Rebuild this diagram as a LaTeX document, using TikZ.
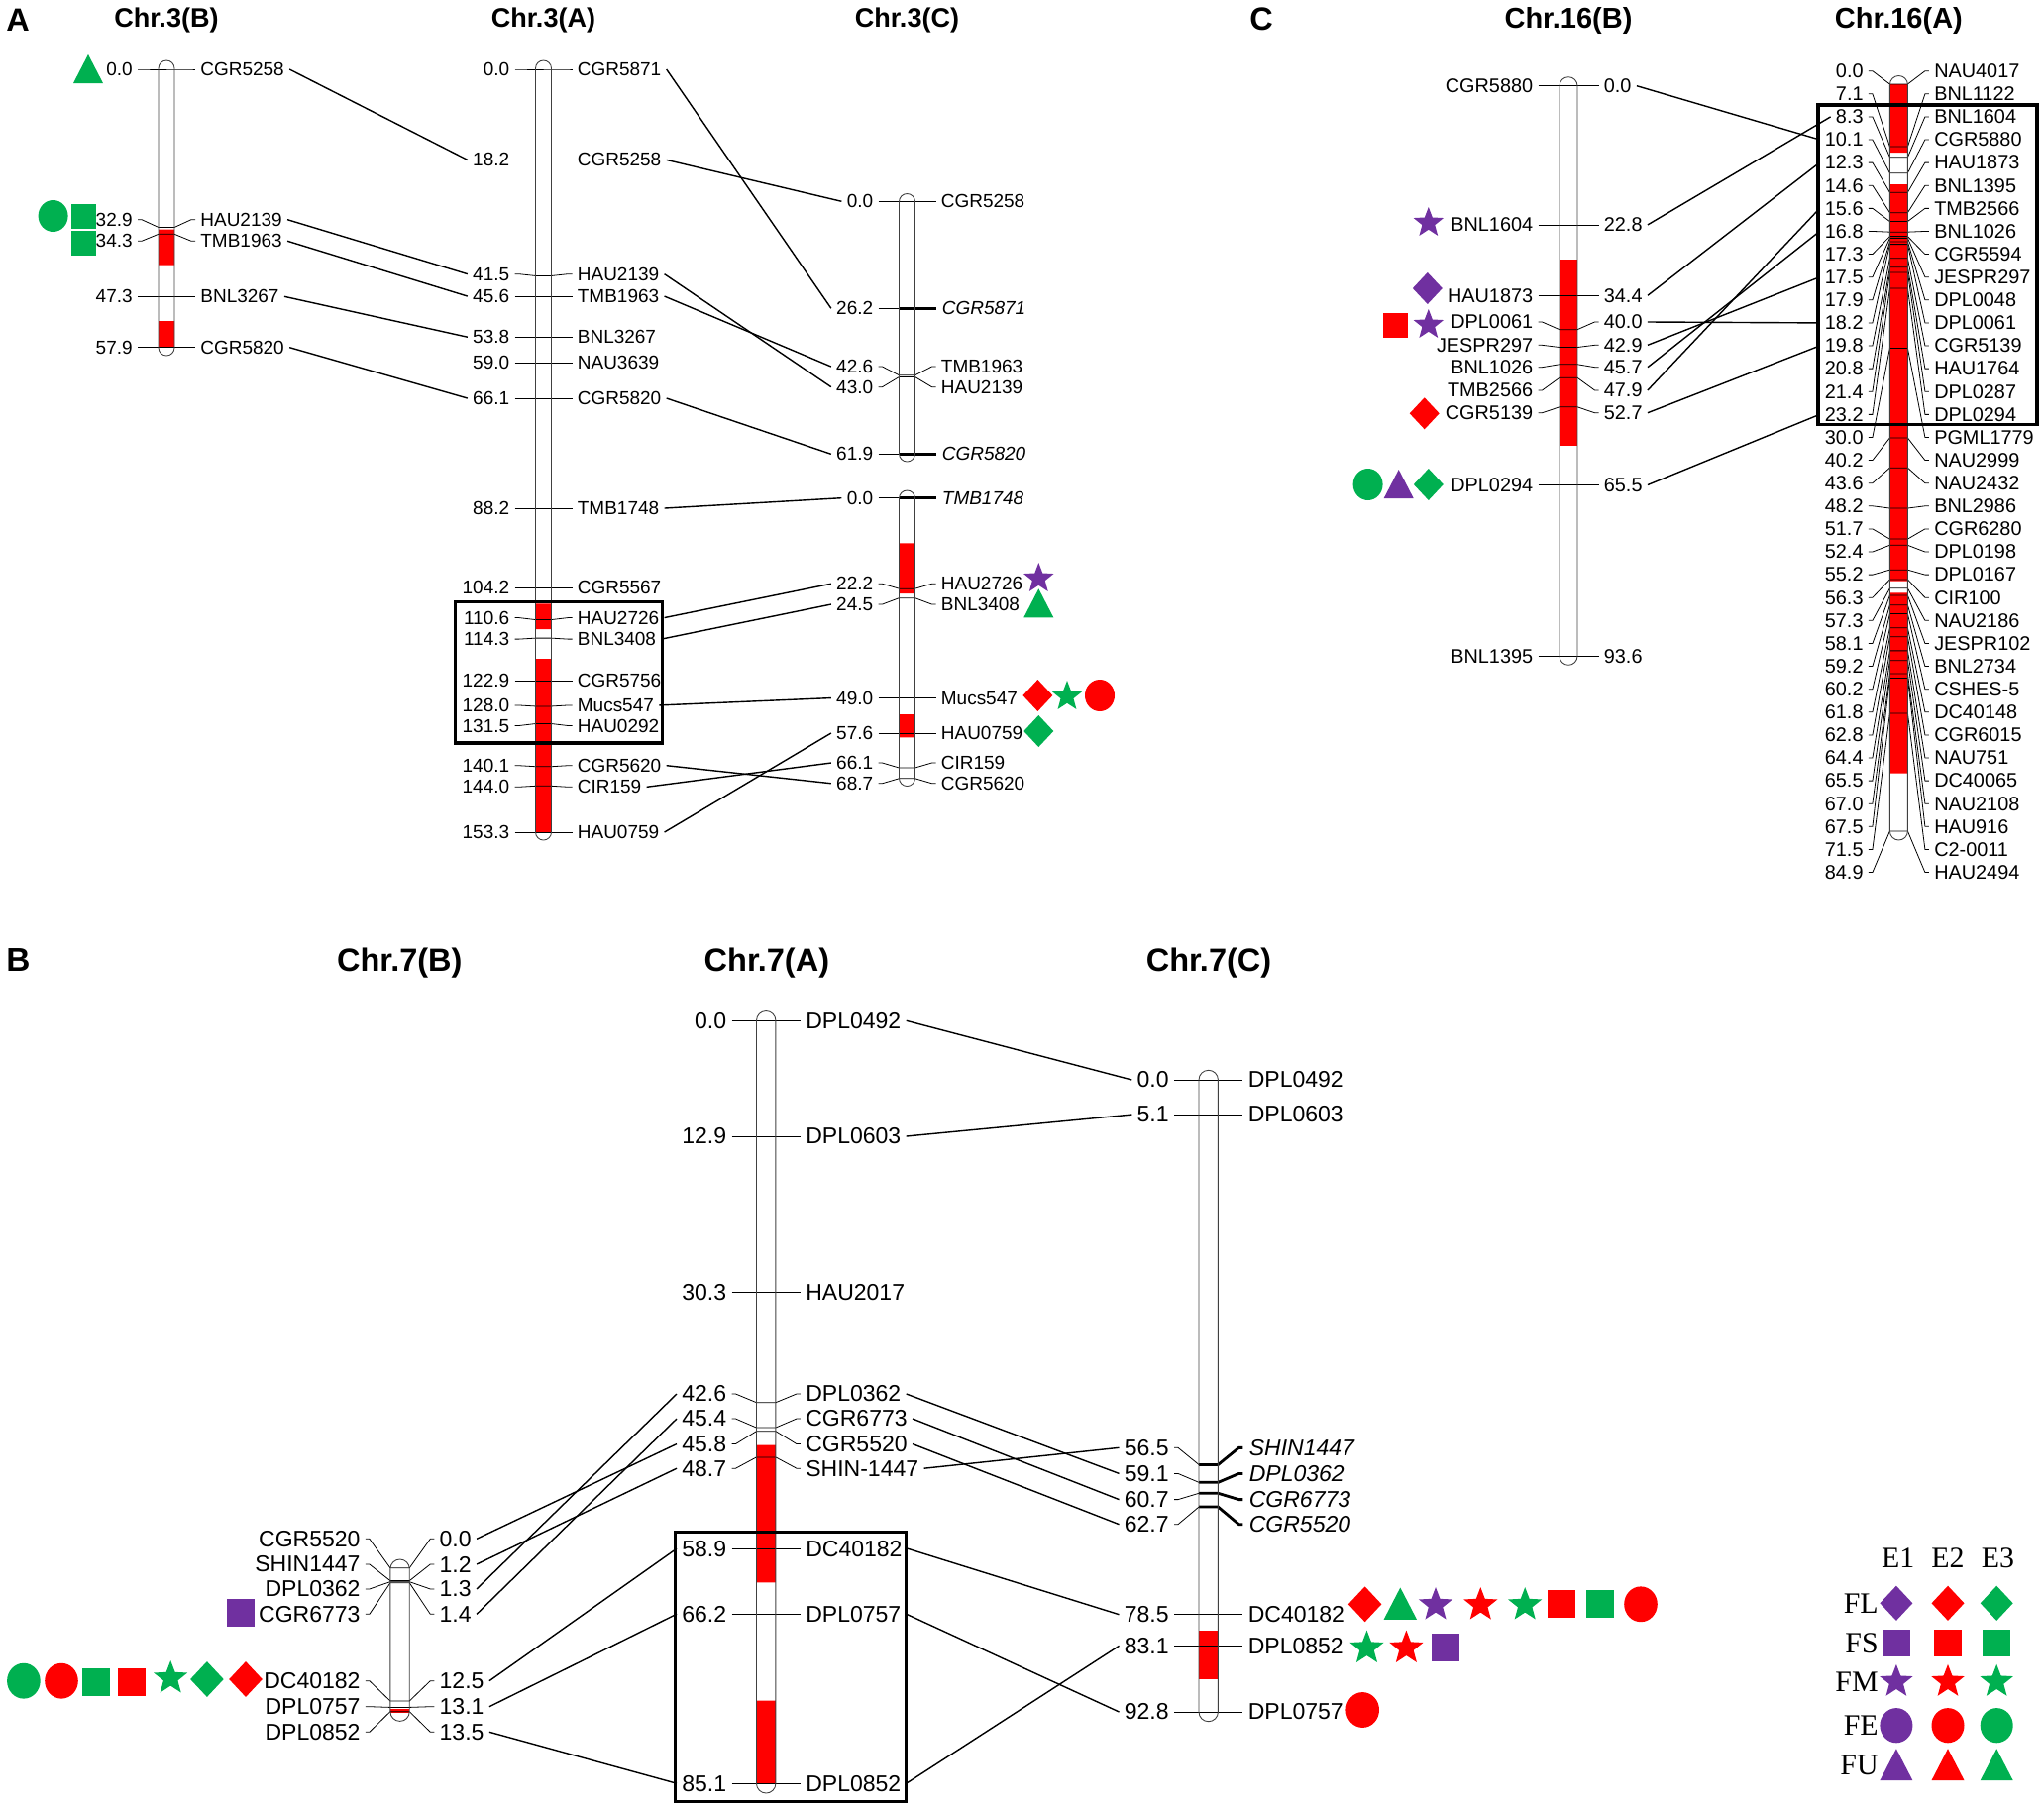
\documentclass[tikz,border=0pt]{standalone}
\usepackage{fontspec}
\setmainfont{Liberation Sans}
\newfontfamily\legfont{Liberation Serif}
\definecolor{qred}{RGB}{255,0,0}
\definecolor{qgrn}{RGB}{0,176,80}
\definecolor{qpur}{RGB}{112,48,160}
\newcommand\lblfont{\fontsize{10.8}{13}\selectfont}

\tikzset{
  lftlbl/.style={anchor=east,inner xsep=1mm,inner ysep=0.3mm,font=\lblfont},
  rgtlbl/.style={anchor=west,inner xsep=1mm,inner ysep=0.3mm,font=\lblfont},
  tk/.style={line width=0.45pt},
  tkb/.style={line width=1.6pt,font=\lblfont\itshape},
  bar/.style={draw=black!75,line width=0.5pt,rounded corners=\rc},
  cn/.style={line width=0.8pt},
  box/.style={draw,line width=2pt},
  ttl/.style={anchor=base,inner sep=0,font=\bfseries\fontsize{15.4}{18}\selectfont},
  pnl/.style={anchor=base west,inner sep=0,font=\bfseries\fontsize{18.5}{22}\selectfont},
  leg/.style={inner sep=0.5mm,font=\legfont\fontsize{17}{20}\selectfont},
  bs/.style={scale=1.12},
  ls/.style={scale=1.1},
  pics/dia/.style={code={\fill[#1] (0,-16) -- (15,0) -- (0,16) -- (-15,0) -- cycle;}},
  pics/sqr/.style={code={\fill[#1] (-12.5,-12.5) rectangle (12.5,12.5);}},
  pics/crc/.style={code={\fill[#1] (0,0) ellipse (15 and 16);}},
  pics/tri/.style={code={\fill[#1] (0,-15) -- (15,14) -- (-15,14) -- cycle;}},
  pics/str/.style={code={\fill[#1] (-90:16) -- (-54:6.8) -- (-18:16) -- (18:6.8) -- (54:16)
      -- (90:6.8) -- (126:16) -- (162:6.8) -- (198:16) -- (234:6.8) -- cycle;}},
}

% markers of one linkage group: #1 centre x, #2 y of 0 cM, #3 px per cM, #4 list
\newcommand{\chrmarks}[4]{%
  \foreach \nm/\cm/\dl/\ltx/\rtx/\sty in {#4}{%
    \pgfmathsetmacro\my{#2+#3*\cm}%
    \pgfmathsetmacro\ly{\my+\dl}%
    \node[lftlbl] (\nm-L) at (#1-\hw-\gp,\ly) {\ltx};
    \node[rgtlbl,\sty] (\nm-R) at (#1+\hw+\gp,\ly) {\rtx};
    \draw[tk] (\nm-L.east) -- ++(4,0) -- (#1-\hw,\my);
    \draw[tk,\sty] (#1-\hw,\my) -- (#1+\hw,\my) -- ([xshift=-0.8mm]\nm-R.west) -- (\nm-R.west);
  }}

\begin{document}
\begin{tikzpicture}[x=0.2mm,y=-0.2mm]
\useasboundingbox (0,0) rectangle (2063,1825);

% ---------------- panel A ----------------
\begin{scope}
  \def\hw{8}\def\gp{21}\def\rc{1.6mm}
  \def\lblfont{\fontsize{10.8}{13}\selectfont}
  \node[pnl] (pA) at (6,31.5) {A};
  \node[ttl] (tA1) at (168,27) {Chr.3(B)};
  \node[ttl] (tA2) at (548.5,27) {Chr.3(A)};
  \node[ttl] (tA3) at (915.5,27) {Chr.3(C)};

  % Chr.3(B)
  \fill[qred] (160,231.7) rectangle (176,267.7) (160,324) rectangle (176,350.7);
  \chrmarks{168}{70}{4.848}{b1/0.0/0/0.0/CGR5258/tk, b2/32.9/-7.8/32.9/HAU2139/tk,
    b3/34.3/7/34.3/TMB1963/tk, b4/47.3/0/47.3/BNL3267/tk, b5/57.9/0/57.9/CGR5820/tk}
  \draw[bar] (160,61) rectangle (176,359);

  % Chr.3(A)
  \fill[qred] (540.5,609.3) rectangle (556.5,635) (540.5,665) rectangle (556.5,840);
  \chrmarks{548.5}{70}{5.023}{a1/0.0/0/0.0/CGR5871/tk, a2/18.2/0/18.2/CGR5258/tk,
    a3/41.5/-1.8/41.5/HAU2139/tk, a4/45.6/0/45.6/TMB1963/tk, a5/53.8/0/53.8/BNL3267/tk,
    a6/59.0/0/59.0/NAU3639/tk, a7/66.1/0/66.1/CGR5820/tk, a8/88.2/0/88.2/TMB1748/tk,
    a9/104.2/0/104.2/CGR5567/tk, a10/110.6/-2/110.6/HAU2726/tk, a11/114.3/1/114.3/BNL3408/tk,
    a12/122.9/0/122.9/CGR5756/tk, a13/128.0/-1/128.0/Mucs547/tk, a14/131.5/2/131.5/HAU0292/tk,
    a15/140.1/-1/140.1/CGR5620/tk, a16/144.0/1/144.0/CIR159/tk, a17/153.3/0/153.3/HAU0759/tk}
  \draw[bar] (540.5,61) rectangle (556.5,848);
  \draw[box] (459.7,607.3) rectangle (668.6,750);

  % Chr.3(C), two groups
  \chrmarks{915.5}{203.3}{4.12}{c1/0.0/0/0.0/CGR5258/tk, c2/26.2/0/26.2/CGR5871/tkb,
    c3/42.6/-8.8/42.6/TMB1963/tk, c4/43.0/10.2/43.0/HAU2139/tk, c5/61.9/0/61.9/CGR5820/tkb}
  \draw[bar] (907.5,195.5) rectangle (923.5,466);
  \fill[qred] (907.5,548.3) rectangle (923.5,599) (907.5,721) rectangle (923.5,744.3);
  \chrmarks{915.5}{502.7}{4.12}{d1/0.0/0/0.0/TMB1748/tkb, d2/22.2/-4.9/22.2/HAU2726/tk,
    d3/24.5/6.4/24.5/BNL3408/tk, d4/49.0/0/49.0/Mucs547/tk, d5/57.6/0/57.6/HAU0759/tk,
    d6/66.1/-5/66.1/CIR159/tk, d7/68.7/5/68.7/CGR5620/tk}
  \draw[bar] (907.5,495) rectangle (923.5,793.5);

  \foreach \p/\q in {b1/a2, b2/a3, b3/a4, b4/a5, b5/a7, a1/c2, a2/c1, a3/c4, a4/c3, a7/c5,
      a8/d1, a10/d2, a11/d3, a13/d4, a15/d7, a16/d6, a17/d5}
    \draw[cn] (\p-R.east) -- (\q-L.west);

  \pic at (89,70) {tri=qgrn};
  \pic at (53.6,218) {crc=qgrn};
  \pic at (84,218) {sqr=qgrn};
  \pic at (84,245) {sqr=qgrn};
  \pic at (1048.3,584) {str=qpur};
  \pic at (1048.3,609.3) {tri=qgrn};
  \pic at (1047.4,702) {dia=qred};
  \pic at (1077,703) {str=qgrn};
  \pic at (1110,702) {crc=qred};
  \pic at (1048.3,738) {dia=qgrn};
\end{scope}

% ---------------- panel C ----------------
\begin{scope}
  \def\hw{9}\def\gp{21.5}\def\rc{1.8mm}
  \def\lblfont{\fontsize{11.3}{13}\selectfont}
  \node[pnl] (pC) at (1261,30.7) {C};
  \node[ttl,font=\bfseries\fontsize{16.5}{19}\selectfont] (tC1) at (1583,28) {Chr.16(B)};
  \node[ttl,font=\bfseries\fontsize{16.5}{19}\selectfont] (tC2) at (1916.4,28) {Chr.16(A)};

  % Chr.16(B)
  \fill[qred] (1574,262.3) rectangle (1592,449.5);
  \chrmarks{1583}{86.7}{6.15}{e1/0.0/0/CGR5880/0.0/tk, e2/22.8/0/BNL1604/22.8/tk,
    e3/34.4/0/HAU1873/34.4/tk, e4/40.0/-7.7/DPL0061/40.0/tk, e5/42.9/-2.2/JESPR297/42.9/tk,
    e6/45.7/2.9/BNL1026/45.7/tk, e7/47.9/12.7/TMB2566/47.9/tk, e8/52.7/5.9/CGR5139/52.7/tk,
    e9/65.5/0/DPL0294/65.5/tk, e10/93.6/0/BNL1395/93.6/tk}
  \draw[bar] (1574,77.7) rectangle (1592,671.3);

  % Chr.16(A)
  \fill[qred] (1907.4,85) rectangle (1925.4,154) (1907.4,186) rectangle (1925.4,586.7)
    (1907.4,598.3) rectangle (1925.4,780.7);
  \foreach \cm/\nm [count=\i from 0] in {0.0/NAU4017, 7.1/BNL1122, 8.3/BNL1604, 10.1/CGR5880,
      12.3/HAU1873, 14.6/BNL1395, 15.6/TMB2566, 16.8/BNL1026, 17.3/CGR5594, 17.5/JESPR297,
      17.9/DPL0048, 18.2/DPL0061, 19.8/CGR5139, 20.8/HAU1764, 21.4/DPL0287, 23.2/DPL0294,
      30.0/PGML1779, 40.2/NAU2999, 43.6/NAU2432, 48.2/BNL2986, 51.7/CGR6280, 52.4/DPL0198,
      55.2/DPL0167, 56.3/CIR100, 57.3/NAU2186, 58.1/JESPR102, 59.2/BNL2734, 60.2/CSHES-5,
      61.8/DC40148, 62.8/CGR6015, 64.4/NAU751, 65.5/DC40065, 67.0/NAU2108, 67.5/HAU916,
      71.5/C2-0011, 84.9/HAU2494}{
    \pgfmathsetmacro\my{85+8.88*\cm}
    \pgfmathsetmacro\ly{71.7+23.11*\i}
    \node[lftlbl] (f\i-L) at (1916.4-\hw-\gp,\ly) {\cm};
    \node[rgtlbl] (f\i-R) at (1916.4+\hw+\gp,\ly) {\nm};
    \draw[tk] (f\i-L.east) -- ++(4,0) -- (1907.4,\my) -- (1925.4,\my)
      -- ([xshift=-0.8mm]f\i-R.west) -- (f\i-R.west);
  }
  \draw[bar] (1907.4,76.5) rectangle (1925.4,848);
  \draw[box] (1834.8,106) rectangle (2056,428.3);

  \foreach \p/\q in {e1/f3, e2/f2, e3/f4, e4/f11, e5/f9, e6/f7, e7/f6, e8/f12, e9/f15}
    \draw[cn] (\p-R.east) -- (\q-L.west);

  \pic at (1441.8,225) {str=qpur};
  \pic at (1440.8,291) {dia=qpur};
  \pic at (1408,328.3) {sqr=qred};
  \pic at (1441.8,328) {str=qpur};
  \pic at (1437.7,417.3) {dia=qred};
  \pic at (1380.6,489) {crc=qgrn};
  \pic at (1411.7,489) {tri=qpur};
  \pic at (1441.8,489) {dia=qgrn};
\end{scope}

% ---------------- panel B ----------------
\begin{scope}
  \def\hw{9.7}\def\gp{25}\def\rc{1.94mm}
  \def\lblfont{\fontsize{13.1}{15}\selectfont}
  \node[pnl,font=\bfseries\fontsize{19}{22}\selectfont] (pB) at (6,980.7) {B};
  \node[ttl,font=\bfseries\fontsize{18.5}{22}\selectfont] (tB1) at (403.3,980.7) {Chr.7(B)};
  \node[ttl,font=\bfseries\fontsize{18.5}{22}\selectfont] (tB2) at (773.9,980.7) {Chr.7(A)};
  \node[ttl,font=\bfseries\fontsize{18.5}{22}\selectfont] (tB3) at (1220,980.7) {Chr.7(C)};

  % Chr.7(B)
  \fill[qred] (393.9,1724.5) rectangle (413.3,1728.5);
  \chrmarks{403.6}{1582.7}{10.74}{g1/0.0/-29.4/CGR5520/0.0/tk, g2/1.2/-16.6/SHIN1447/1.2/tk,
    g3/1.3/7.3/DPL0362/1.3/tk, g4/1.4/31.6/CGR6773/1.4/tk, g5/12.5/-20.3/DC40182/12.5/tk,
    g6/13.1/-0.7/DPL0757/13.1/tk, g7/13.5/20.6/DPL0852/13.5/tk}
  \draw[bar] (393.9,1574) rectangle (413.3,1737.4);

  % Chr.7(A)
  \fill[qred] (763.5,1458.7) rectangle (782.9,1597.3) (763.5,1716.5) rectangle (782.9,1800.2);
  \chrmarks{773.2}{1030.3}{9.047}{h1/0.0/0/0.0/DPL0492/tk, h2/12.9/0/12.9/DPL0603/tk,
    h3/30.3/0/30.3/HAU2017/tk, h4/42.6/-8.7/42.6/DPL0362/tk, h5/45.4/-9/45.4/CGR6773/tk,
    h6/45.8/12.9/45.8/CGR5520/tk, h7/48.7/11.3/48.7/SHIN-1447/tk, h8/58.9/0/58.9/DC40182/tk,
    h9/66.2/0/66.2/DPL0757/tk, h10/85.1/0/85.1/DPL0852/tk}
  \draw[bar] (763.5,1020.5) rectangle (782.9,1810);
  \draw[box] (681.3,1546.5) rectangle (914.6,1818.5);

  % Chr.7(C)
  \fill[qred] (1210,1646) rectangle (1229.4,1694.6);
  \chrmarks{1219.7}{1090}{6.875}{k1/0.0/0/0.0/DPL0492/tk, k2/5.1/0/5.1/DPL0603/tk,
    k3/56.5/-17.1/56.5/SHIN1447/tkb, k4/59.1/-8.9/59.1/DPL0362/tkb,
    k5/60.7/6.3/60.7/CGR6773/tkb, k6/62.7/17.6/62.7/CGR5520/tkb,
    k7/78.5/0/78.5/DC40182/tk, k8/83.1/0/83.1/DPL0852/tk, k9/92.8/0/92.8/DPL0757/tk}
  \draw[bar] (1210,1080.3) rectangle (1229.4,1737.7);

  \foreach \p/\q in {g1/h6, g2/h7, g3/h4, g4/h5, g5/h8, g6/h9, g7/h10, h1/k1, h2/k2, h4/k4,
      h5/k5, h6/k6, h7/k3, h8/k7, h9/k9, h10/k8}
    \draw[cn] (\p-R.east) -- (\q-L.west);

  \pic[bs] at (243.3,1628.3) {sqr=qpur};
  \pic[bs] at (23.9,1696.7) {crc=qgrn};
  \pic[bs] at (62,1696.7) {crc=qred};
  \pic[bs] at (97.3,1698) {sqr=qgrn};
  \pic[bs] at (133.1,1698) {sqr=qred};
  \pic[bs] at (172.2,1694) {str=qgrn};
  \pic[bs] at (208.9,1695) {dia=qgrn};
  \pic[bs] at (248,1695) {dia=qred};

  \pic[bs] at (1377.6,1619.3) {dia=qred};
  \pic[bs] at (1413.3,1619.3) {tri=qgrn};
  \pic[bs] at (1449,1620) {str=qpur};
  \pic[bs] at (1494.3,1620) {str=qred};
  \pic[bs] at (1539.2,1620) {str=qgrn};
  \pic[bs] at (1576,1619.3) {sqr=qred};
  \pic[bs] at (1614.7,1619.3) {sqr=qgrn};
  \pic[bs] at (1656,1619.3) {crc=qred};
  \pic[bs] at (1379.5,1663.5) {str=qgrn};
  \pic[bs] at (1419.4,1663.5) {str=qred};
  \pic[bs] at (1459.3,1662.7) {sqr=qpur};
  \pic[bs] at (1375.2,1726) {crc=qred};
\end{scope}

% ---------------- legend ----------------
\node[leg] (E1) at (1915.7,1572.7) {E1};
\node[leg] (E2) at (1966,1572.7) {E2};
\node[leg] (E3) at (2016.5,1572.7) {E3};
\foreach \rw/\yy/\shp in {FL/1618.3/dia, FS/1658.3/sqr, FM/1697.5/str, FE/1741.7/crc, FU/1781.7/tri}{
  \node[leg,anchor=east,inner sep=0] (\rw) at (1896,\yy) {\rw};
  \pic[ls] at (1913.9,\yy) {\shp=qpur};
  \pic[ls] at (1966,\yy) {\shp=qred};
  \pic[ls] at (2015.2,\yy) {\shp=qgrn};
}
\end{tikzpicture}
\end{document}
